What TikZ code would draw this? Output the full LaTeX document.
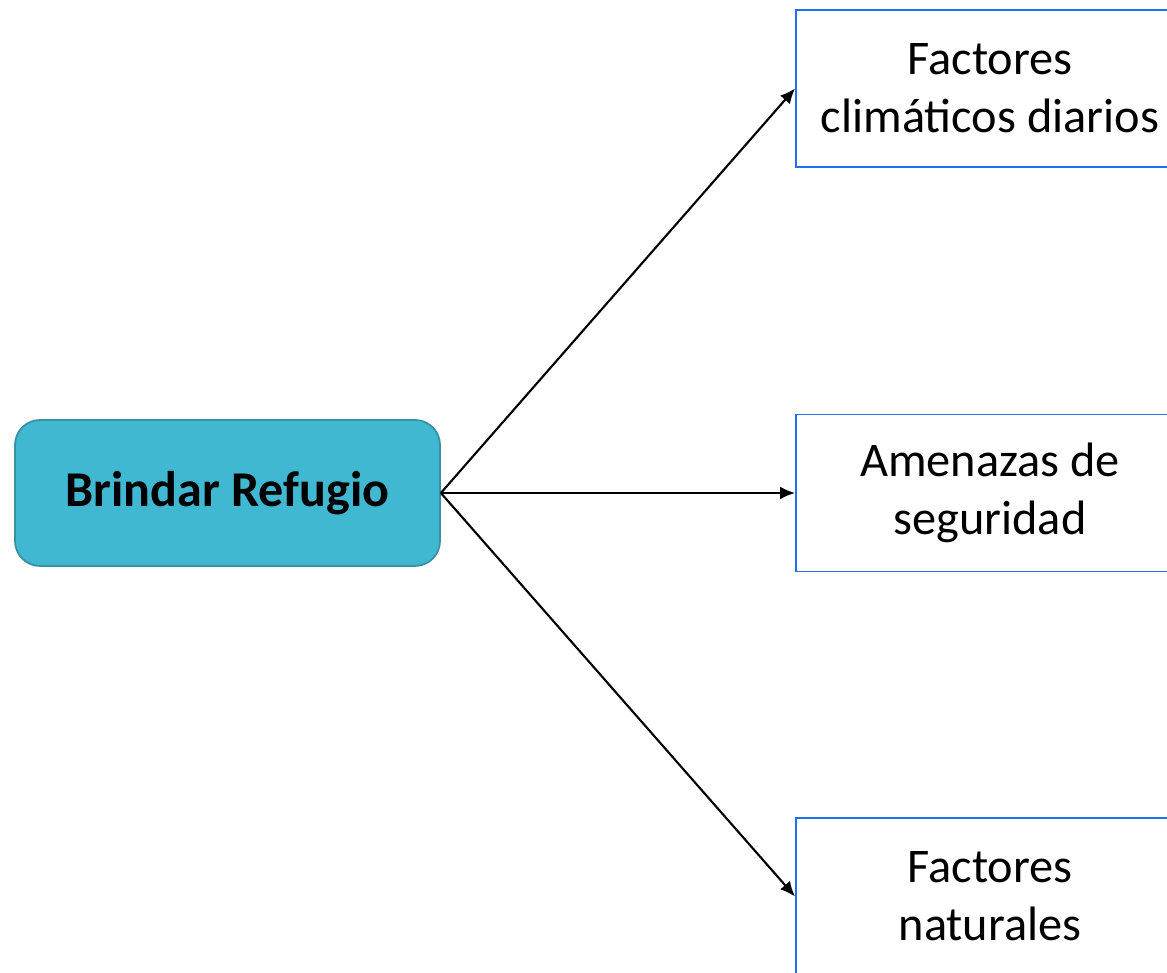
\documentclass[tikz,border=0pt]{standalone}
\usepackage{fontspec}
\setmainfont{Carlito}
\usepackage{tikz}
\usetikzlibrary{arrows.meta}
\definecolor{refugio}{RGB}{65,184,210}
\definecolor{refugioborde}{RGB}{58,143,160}
\definecolor{scheme}{RGB}{31,111,239}

\tikzset{
	mainbox/.style={fill=refugio,draw=refugioborde,line width=1pt,rounded corners=0.5cm,minimum width=8.5cm,minimum height=2.92cm,align=center,font=\fontsize{28.5}{33}\selectfont\bfseries},
	factorbox/.style={fill=white,draw=scheme,line width=1.1pt,minimum width=7.76cm,minimum height=3.14cm,align=center,font=\fontsize{27.5}{33}\selectfont},
	flecha/.style={draw=black,line width=1.2pt,-{Latex[length=3mm,width=2.6mm]}}
}

\begin{document}
\begin{tikzpicture}
					\useasboundingbox (0,0) rectangle (23.34,19.46);
					\coordinate (o1) at (4.55,9.60);
					\coordinate (n1) at (19.8,17.69);
					\coordinate (n2) at (19.8,9.60);
					\coordinate (n3) at (19.8,1.53);
					
					\node (refugio) at (o1) [mainbox] {Brindar Refugio};
					
					\node (clima) at (n1) [factorbox] {Factores\\climáticos diarios};
					\node (amenazas) at (n2) [factorbox] {Amenazas de\\seguridad};
					\node (naturales) at (n3) [factorbox] {Factores\\naturales};
					
					\draw[flecha] (refugio.east) to[] (clima.west);
					\draw[flecha] (refugio.east) to[] (amenazas.west);
					\draw[flecha] (refugio.east) to[] (naturales.west);
					
				\end{tikzpicture}
\end{document}
